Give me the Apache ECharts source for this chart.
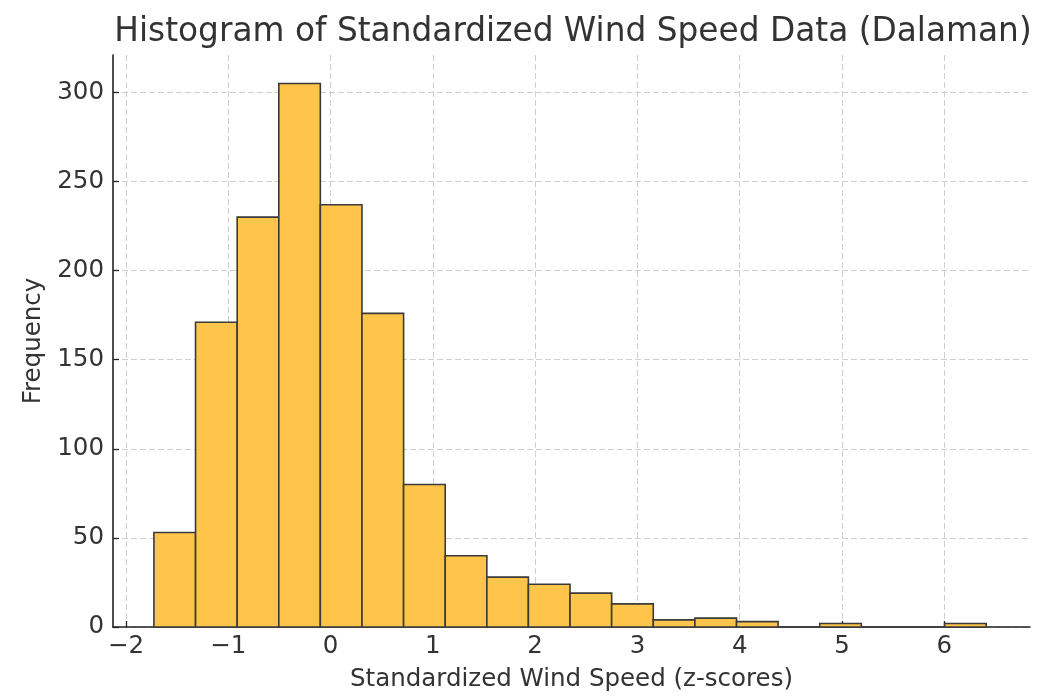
<!DOCTYPE html>
<html>
<head>
<meta charset="utf-8">
<script src="https://cdn.jsdelivr.net/npm/echarts@6/dist/echarts.min.js"></script>
<style>
html,body{margin:0;padding:0;background:#fff;}
#chart{width:1041px;height:699px;}
</style>
</head>
<body>
<div id="chart"></div>
<script>
// Bin edges (z-scores)
var binEdges = [-1.727, -1.320, -0.913, -0.506, -0.100, 0.307, 0.714, 1.121, 1.528, 1.934,
                2.341, 2.748, 3.155, 3.562, 3.969, 4.375, 4.782, 5.189, 5.596, 6.003, 6.410];
// Counts per bin
var counts = [53, 171, 230, 305, 237, 176, 80, 40, 28, 24, 19, 13, 4, 5, 3, 0, 2, 0, 0, 2];
var xTicks = [-2, -1, 0, 1, 2, 3, 4, 5, 6];
var yTicks = [0, 50, 100, 150, 200, 250, 300];

var data = counts.map(function (c, i) { return [binEdges[i], binEdges[i + 1], c]; });

var chart = echarts.init(document.getElementById('chart'), null, {renderer: 'canvas'});
var font = 'DejaVu Sans';
chart.setOption({
  backgroundColor: '#ffffff',
  animation: false,
  title: {
    text: 'Histogram of Standardized Wind Speed Data (Dalaman)',
    left: 568, top: 11, textAlign: 'center',
    textStyle: {fontFamily: font, fontSize: 32.8, fontWeight: 'normal', color: '#333333'}
  },
  grid: {left: 113, right: 11, top: 55, bottom: 72, containLabel: false},
  xAxis: {
    type: 'value', min: -2.127, max: 6.838,
    name: 'Standardized Wind Speed (z-scores)', nameLocation: 'middle', nameGap: 40,
    nameTextStyle: {fontFamily: font, fontSize: 24.5, color: '#333333'},
    axisLine: {show: true, onZero: false, lineStyle: {color: '#222222', width: 1.6}},
    axisTick: {show: true, inside: true, length: 6, customValues: xTicks, lineStyle: {color: '#222222', width: 1.3}},
    axisLabel: {customValues: xTicks, margin: 7, fontFamily: font, fontSize: 24.5, color: '#333333',
      formatter: function (v) { return v < 0 ? '\u2212' + Math.abs(v) : String(v); }},
    splitLine: {show: true, lineStyle: {color: '#cfcfcf', type: [6, 3], width: 1}}
  },
  yAxis: {
    type: 'value', min: 0, max: 321,
    name: 'Frequency', nameLocation: 'middle', nameGap: 59,
    nameTextStyle: {fontFamily: font, fontSize: 24.5, color: '#333333'},
    axisLine: {show: true, onZero: false, lineStyle: {color: '#222222', width: 1.6}},
    axisTick: {show: true, inside: true, length: 6, customValues: yTicks, lineStyle: {color: '#222222', width: 1.3}},
    axisLabel: {customValues: yTicks, margin: 9, fontFamily: font, fontSize: 24.5, color: '#333333'},
    splitLine: {show: true, lineStyle: {color: '#cfcfcf', type: [6, 3], width: 1}}
  },
  series: [{
    type: 'custom',
    data: data,
    encode: {x: [0, 1], y: 2},
    renderItem: function (params, api) {
      var p0 = api.coord([api.value(0), 0]);
      var p1 = api.coord([api.value(1), api.value(2)]);
      return {
        type: 'rect',
        shape: {x: p0[0], y: p1[1], width: p1[0] - p0[0], height: p0[1] - p1[1]},
        style: {fill: '#ffc54a', stroke: '#3a3a3a', lineWidth: 1.6}
      };
    }
  }]
});
</script>
</body>
</html>
